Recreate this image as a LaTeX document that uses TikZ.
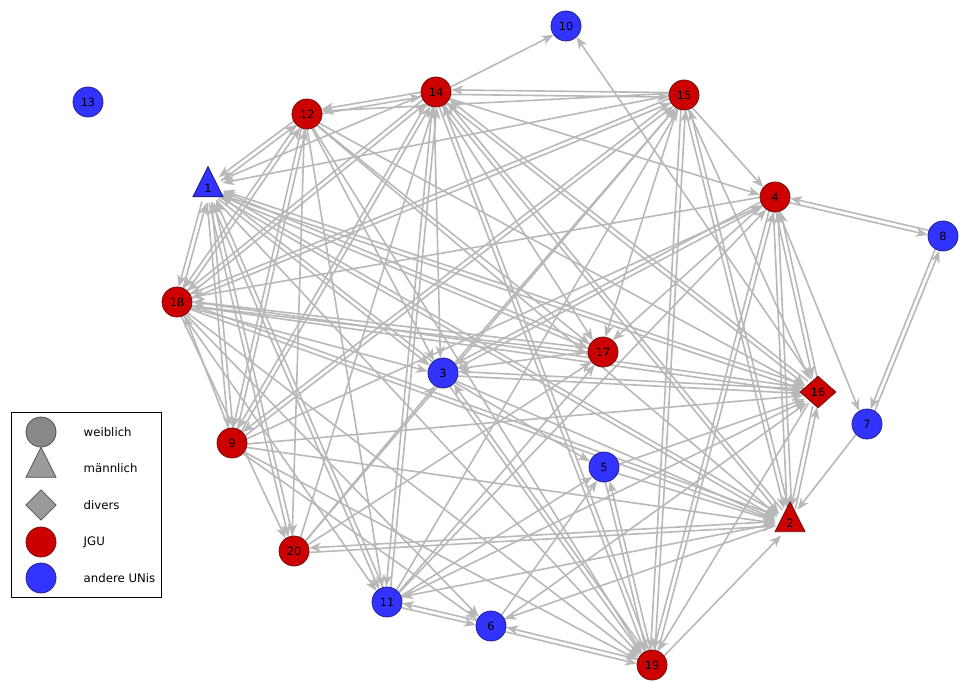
\documentclass[tikz,border=0pt]{standalone}
\usepackage{fontspec}
\setmainfont{DejaVu Sans}
\usetikzlibrary{shapes.geometric,arrows.meta,calc,backgrounds}
\definecolor{jgu}{RGB}{204,0,0}
\definecolor{jguB}{RGB}{115,20,20}
\definecolor{uni}{RGB}{51,51,255}
\definecolor{uniB}{RGB}{35,35,140}
\definecolor{edgec}{RGB}{184,184,184}
\definecolor{leg}{RGB}{136,136,136}
\definecolor{legB}{RGB}{80,80,80}
\begin{document}
\begin{tikzpicture}[x=0.75pt,y=-0.75pt,
  lab/.style={font=\fontsize{8.5}{10}\selectfont, text=black},
  circ/.style={circle, minimum size=22.5pt, inner sep=0pt, lab},
  tri/.style={isosceles triangle, isosceles triangle apex angle=53, isosceles triangle stretches, shape border rotate=90, minimum width=22.5pt, minimum height=22.5pt, inner sep=0pt, lab},
  dia/.style={diamond, minimum width=27pt, minimum height=24pt, inner sep=0pt, lab},
  red/.style={fill=jgu, draw=jguB, line width=0.6pt},
  blue/.style={fill=uni, draw=uniB, line width=0.6pt},
  gray/.style={fill=leg, draw=legB, line width=0.6pt},
  edge/.style={draw=edgec, line width=1.2pt, shorten >=11.3pt, shorten <=11pt, -{Stealth[length=9pt,width=7pt,inset=2.6pt]}},
  legtext/.style={font=\fontsize{8.8}{11}\selectfont, anchor=west, text=black}
]
\useasboundingbox (0,0) rectangle (969,691);

% network nodes
\node[circ,blue] (n10) at (566,26) {10};
\node[circ,blue] (n13) at (88,102) {13};
\node[circ,red] (n14) at (436,92) {14};
\node[circ,red] (n15) at (684,95) {15};
\node[circ,red] (n12) at (307,114) {12};
\node[tri,blue] (n1) at (208,188) {1};
\node[circ,red] (n4) at (775,197) {4};
\node[circ,blue] (n8) at (943,236) {8};
\node[circ,red] (n18) at (177,302) {18};
\node[circ,red] (n17) at (603,352) {17};
\node[circ,blue] (n3) at (443,373) {3};
\node[dia,red] (n16) at (818,392) {16};
\node[circ,blue] (n7) at (867,424) {7};
\node[circ,red] (n9) at (232,443) {9};
\node[circ,blue] (n5) at (604,467) {5};
\node[tri,red] (n2) at (790,523) {2};
\node[circ,red] (n20) at (294,551) {20};
\node[circ,blue] (n11) at (387,602) {11};
\node[circ,blue] (n6) at (491,626) {6};
\node[circ,red] (n19) at (652,665) {19};

% connectors
\begin{scope}[on background layer]
\foreach \a/\b in {
1/12, 12/1, 15/1, 14/1, 18/1, 1/18, 9/1, 1/9, 20/1, 11/1, 3/1, 17/1, 16/1, 2/1,
1/3, 1/17, 1/16, 1/2, 1/20, 1/11, 1/19,
12/14, 14/12, 15/12, 12/18, 18/12, 12/9, 9/12, 12/3, 12/16, 12/2, 12/11, 12/20, 12/19, 12/17,
14/15, 15/14, 14/10, 14/4, 14/18, 14/9, 14/3, 14/17, 14/16, 14/2, 14/19, 19/14, 14/11, 11/14, 18/14, 9/14, 20/14, 2/14, 16/14,
15/4, 15/18, 15/9, 15/17, 15/16, 15/19, 19/15, 15/2, 2/15, 11/15, 20/15, 18/15, 9/15, 3/15,
4/8, 8/4, 4/7, 4/17, 4/3, 3/4, 4/16, 16/4, 4/2, 2/4, 4/19, 19/4, 11/4, 9/4, 4/18,
8/7, 7/8, 7/2, 16/10,
16/2, 2/16, 16/19, 16/18, 9/16, 3/16, 5/16, 6/16, 11/16, 18/16,
17/3, 18/17, 17/18, 11/17, 20/17,
2/20, 20/2, 2/11, 2/6, 19/2, 2/18, 9/2, 3/2, 5/2, 18/2,
3/5, 3/19, 19/3, 18/3, 20/3, 16/3,
5/19, 19/5, 11/5, 6/5,
6/11, 11/6, 6/19, 19/6, 9/6, 18/6,
9/19, 18/19, 18/20, 18/11, 9/18}
  \draw[edge] ($(n\a)!1.7pt!-90:(n\b)$) -- ($(n\b)!1.7pt!90:(n\a)$);
\end{scope}

% legend
\node[draw=black, line width=0.6pt, minimum width=112.5pt, minimum height=138.75pt, inner sep=0pt] (legbox) at (86,504.5) {};
\node[circ,gray] (lg1) at (41,432) {};
\node[tri,gray, fill=leg!85!white] (lg2) at (41,468) {};
\node[dia,gray, fill=leg!85!white, minimum width=23pt, minimum height=23pt] (lg3) at (41,505) {};
\node[circ,red] (lg4) at (41,542) {};
\node[circ,blue] (lg5) at (41,578) {};
\node[legtext] (t1) at (79,432) {weiblich};
\node[legtext] (t2) at (79,468) {männlich};
\node[legtext] (t3) at (79,505) {divers};
\node[legtext] (t4) at (79,542) {JGU};
\node[legtext] (t5) at (79,578) {andere UNis};
\end{tikzpicture}
\end{document}
